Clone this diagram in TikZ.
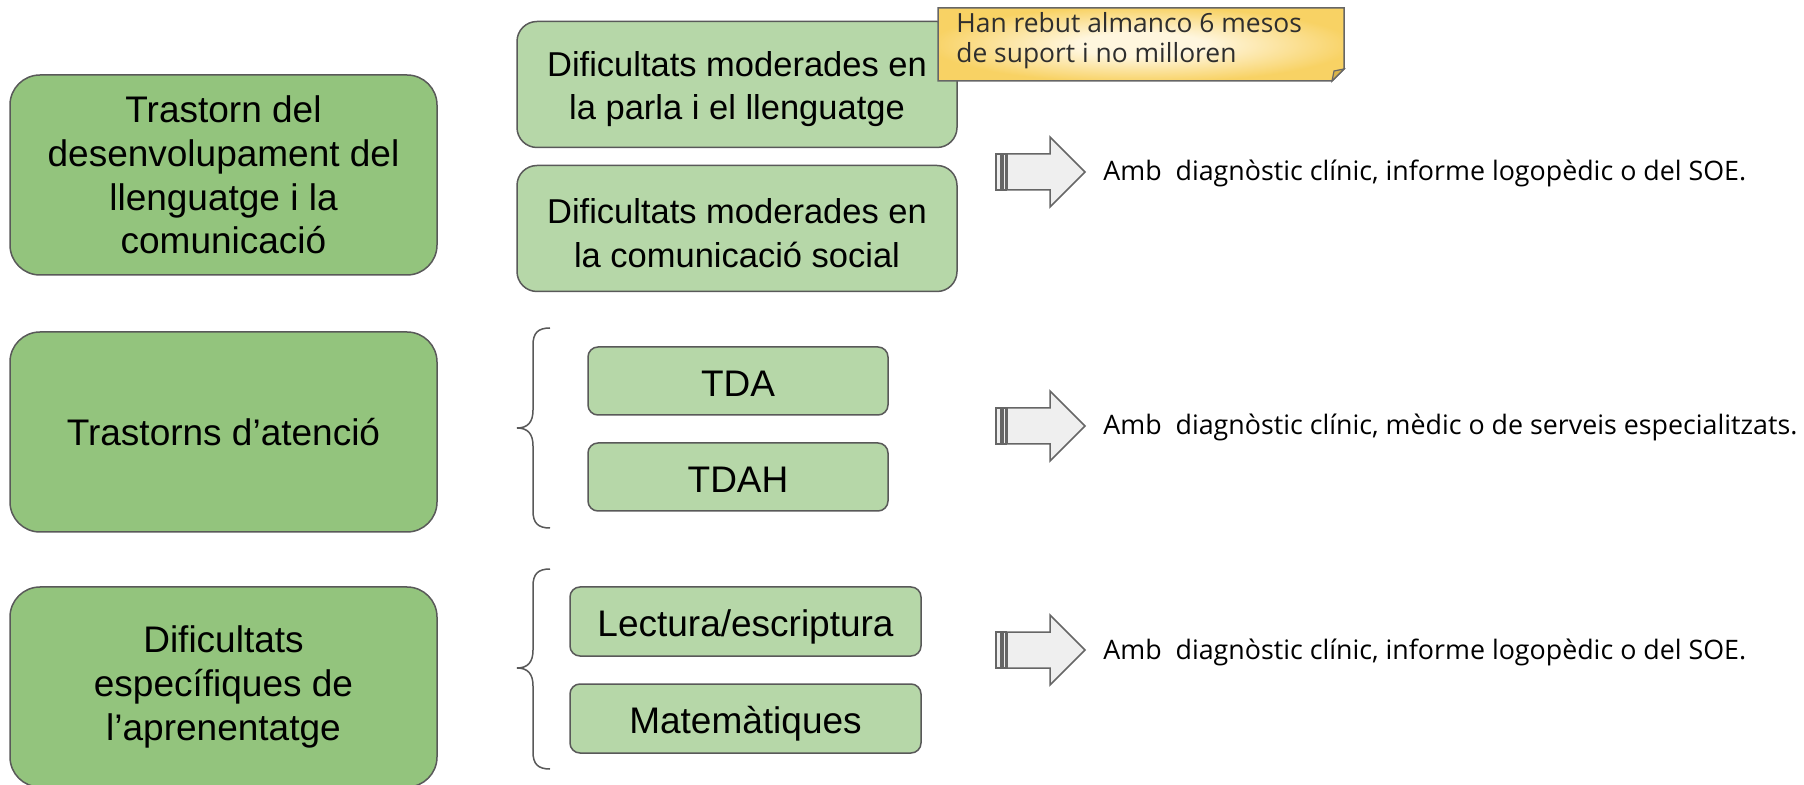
\documentclass[tikz,border=0pt]{standalone}
\usepackage{fontspec}
\setmainfont{Liberation Sans}
\newfontfamily\osans{Open Sans}
\definecolor{dgreen}{HTML}{93C47D}
\definecolor{lgreen}{HTML}{B6D7A8}
\definecolor{bordc}{HTML}{595959}
\definecolor{arrfill}{HTML}{EFEFEF}
\definecolor{arrdraw}{HTML}{666666}
\definecolor{noteyel}{HTML}{F8D264}
\definecolor{notelight}{HTML}{FFF6DE}
\definecolor{notefold}{HTML}{D9B44A}
\pgfdeclareradialshading{noteshade}{\pgfpoint{0bp}{0bp}}{%
  color(0bp)=(notelight); color(8bp)=(notelight); color(26bp)=(noteyel); color(50bp)=(noteyel)}
\newcommand{\toplift}{\rule{0pt}{17.2pt}}
\begin{document}
\begin{tikzpicture}[x=0.5pt,y=-0.5pt,
  bigbox/.style={draw=bordc,line width=0.75pt,fill=dgreen,rounded corners=15pt,
    minimum width=213.5pt,minimum height=100pt,inner sep=0pt,align=center,
    font=\fontsize{18.5pt}{21.8pt}\selectfont},
  midbox/.style={draw=bordc,line width=0.75pt,fill=lgreen,rounded corners=10pt,
    minimum width=220pt,minimum height=63pt,inner sep=0pt,align=center,
    font=\fontsize{17.25pt}{21.8pt}\selectfont},
  smallbox/.style={draw=bordc,line width=0.75pt,fill=lgreen,rounded corners=5pt,
    minimum height=34pt,inner sep=0pt,align=center,text height=15.2pt,text depth=0pt,
    font=\fontsize{18.5pt}{21.5pt}\selectfont},
  rtext/.style={inner sep=0pt,anchor=base west,font=\osans\fontsize{13.4pt}{15pt}\selectfont},
  bracepath/.style={draw=bordc,line width=0.75pt},
  sarrow/.pic={
    \path[fill=arrfill,draw=arrdraw,line width=0.6pt] (0,-18) rectangle (5,18);
    \path[fill=arrfill,draw=arrdraw,line width=0.6pt] (7,-18) rectangle (10,18);
    \path[fill=arrfill,draw=arrdraw,line width=0.75pt]
      (11,-18) -- (54,-18) -- (54,-35) -- (89,0) -- (54,35) -- (54,18) -- (11,18) -- cycle;
  }]
\useasboundingbox[fill=white] (0,0) rectangle (1804,785);

% left category boxes
\node[bigbox] (l1) at (223.5,175) {Trastorn del\\desenvolupament del\\llenguatge i la\\comunicació};
\node[bigbox] (l2) at (223.5,432) {Trastorns d’atenció};
\node[bigbox] (l3) at (223.5,687) {Dificultats\\específiques de\\l’aprenentatge};

% middle boxes
\node[midbox] (m1) at (737,84.5) {\toplift Dificultats moderades en\\la parla i el llenguatge};
\node[midbox] (m2) at (737,228.5) {\toplift Dificultats moderades en\\la comunicació social};
\node[smallbox,minimum width=150pt] (tda) at (738,381) {TDA};
\node[smallbox,minimum width=150pt] (tdah) at (738,477) {TDAH};
\node[smallbox,minimum width=175.5pt,minimum height=34.5pt] (lect) at (745.5,621.5) {Lectura/escriptura};
\node[smallbox,minimum width=175.5pt,minimum height=34.5pt] (mat) at (745.5,718.5) {Matemàtiques};

% braces
\path[bracepath] (550,328) .. controls (538,328) and (533,333) .. (533,345) -- (533,410)
  .. controls (533,422) and (528,428) .. (517,428) .. controls (528,428) and (533,434) .. (533,446)
  -- (533,511) .. controls (533,523) and (538,528) .. (550,528);
\path[bracepath] (550,569) .. controls (538,569) and (533,574) .. (533,586) -- (533,650)
  .. controls (533,662) and (528,668) .. (517,668) .. controls (528,668) and (533,674) .. (533,686)
  -- (533,752) .. controls (533,764) and (538,769) .. (550,769);

% sticky note
\path[shading=noteshade]
  (938,8) -- (1344,8) -- (1344,69) -- (1332,81) -- (938,81) -- cycle;
\path[draw=arrdraw,line width=0.75pt]
  (938,8) -- (1344,8) -- (1344,69) -- (1332,81) -- (938,81) -- cycle;
\path[fill=notefold,draw=arrdraw,line width=0.6pt] (1332,81) -- (1334,71) -- (1344,69) -- cycle;
\node[inner sep=0pt,anchor=base west,align=left,text=black!82,
  font=\osans\fontsize{13.2pt}{15pt}\selectfont] (note) at (956,63)
  {Han rebut almanco 6 mesos\\de suport i no milloren};

% striped arrows
\pic at (996,172) {sarrow};
\pic at (996,426) {sarrow};
\pic at (996,650) {sarrow};

% right texts
\node[rtext] (r1) at (1103,181) {Amb\ \ diagnòstic clínic, informe logopèdic o del SOE.};
\node[rtext] (r2) at (1103,435) {Amb\ \ diagnòstic clínic, mèdic o de serveis especialitzats.};
\node[rtext] (r3) at (1103,659) {Amb\ \ diagnòstic clínic, informe logopèdic o del SOE.};
\end{tikzpicture}
\end{document}
